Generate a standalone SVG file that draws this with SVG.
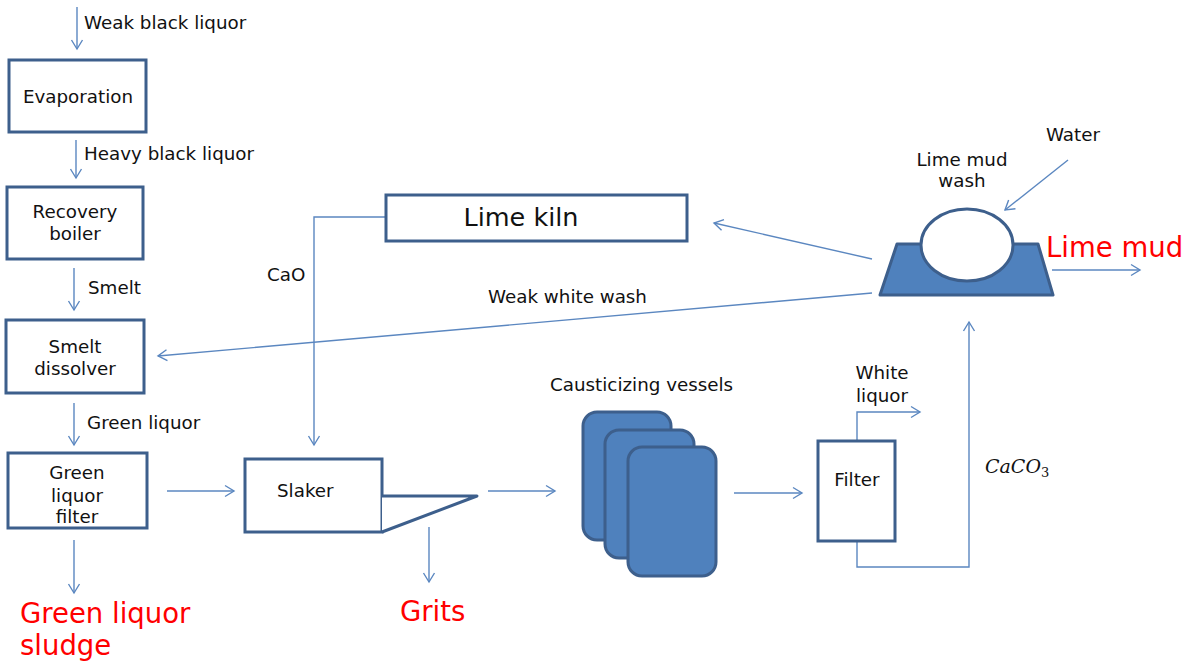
<svg xmlns="http://www.w3.org/2000/svg" width="1191" height="662" viewBox="0 0 1191 662">
  <style>
    .box { fill: #ffffff; stroke: #3d5f8c; stroke-width: 3; }
    .solid { fill: #4f81bd; stroke: #3d5f8c; stroke-width: 3; }
    .flowA { fill: none; stroke: #5b87c0; stroke-width: 1.4; marker-end: url(#arr); }
    text { font-family: "DejaVu Sans", "Open Sans", sans-serif; font-size: 18.3px; fill: #111111; }
    .c { text-anchor: middle; }
    .big { font-size: 25.5px; }
    .red { font-size: 27.5px; fill: #ff0000; }
    .math { font-family: "DejaVu Serif", "Liberation Serif", serif; font-style: italic; font-size: 19px; }
  </style>
  <defs>
    <marker id="arr" markerUnits="userSpaceOnUse" markerWidth="14" markerHeight="14" refX="10" refY="7" orient="auto">
      <path d="M1,1.5 L10,7 L1,12.5" fill="none" stroke="#5b87c0" stroke-width="1.4"/>
    </marker>
  </defs>

  <rect width="1191" height="662" fill="#ffffff"/>

  <!-- connectors -->
  <g id="connectors">
    <line class="flowA" x1="77" y1="7" x2="77" y2="49"/>
    <line class="flowA" x1="76" y1="140" x2="76" y2="178"/>
    <line class="flowA" x1="74" y1="268" x2="74" y2="310"/>
    <line class="flowA" x1="74" y1="403" x2="74" y2="445"/>
    <line class="flowA" x1="74" y1="540" x2="74" y2="593"/>
    <line class="flowA" x1="167" y1="491" x2="234" y2="491"/>
    <line class="flowA" x1="429" y1="527" x2="429" y2="582"/>
    <line class="flowA" x1="488" y1="491" x2="555" y2="491"/>
    <line class="flowA" x1="734" y1="493" x2="802" y2="493"/>
    <polyline class="flowA" points="386,217 314,217 314,445"/>
    <line class="flowA" x1="872" y1="259" x2="714" y2="223"/>
    <line class="flowA" x1="872" y1="293" x2="158" y2="356"/>
    <line class="flowA" x1="1068" y1="160" x2="1005" y2="210"/>
    <line class="flowA" x1="1052" y1="270" x2="1140" y2="270"/>
    <polyline class="flowA" points="857,441 857,412 920,412"/>
    <polyline class="flowA" points="857,541 857,567 969,567 969,322"/>
  </g>

  <!-- left column -->
  <g id="evaporation">
    <rect class="box" x="9" y="60" width="137" height="72"/>
    <text class="c" x="78" y="103">Evaporation</text>
  </g>
  <g id="recovery-boiler">
    <rect class="box" x="7" y="187" width="136" height="72"/>
    <text class="c" x="75" y="218">Recovery</text>
    <text class="c" x="75" y="240">boiler</text>
  </g>
  <g id="smelt-dissolver">
    <rect class="box" x="6" y="320" width="138" height="73"/>
    <text class="c" x="75" y="353">Smelt</text>
    <text class="c" x="75" y="375">dissolver</text>
  </g>
  <g id="green-liquor-filter">
    <rect class="box" x="8" y="453" width="139" height="75"/>
    <text class="c" x="77" y="479">Green</text>
    <text class="c" x="77" y="502">liquor</text>
    <text class="c" x="77" y="523">filter</text>
  </g>

  <!-- slaker with grits trap -->
  <g id="slaker">
    <rect class="box" x="245" y="459" width="137" height="73"/>
    <polyline class="box" points="382,496 477,496 382,532" fill="none" stroke-linejoin="round"/>
    <text x="277" y="497">Slaker</text>
  </g>

  <g id="lime-kiln">
    <rect class="box" x="386" y="195" width="301" height="46"/>
    <text class="c big" x="521" y="226">Lime kiln</text>
  </g>

  <g id="causticizing-vessels">
    <rect class="solid" x="583" y="412" width="88" height="128" rx="14"/>
    <rect class="solid" x="605" y="430" width="89" height="128" rx="14"/>
    <rect class="solid" x="628" y="447" width="88" height="129" rx="14"/>
    <text x="550" y="391">Causticizing vessels</text>
  </g>

  <g id="filter">
    <rect class="box" x="818" y="441" width="77" height="100"/>
    <text class="c" x="857" y="486">Filter</text>
  </g>

  <g id="lime-mud-wash">
    <polygon class="solid" points="897,244 1038,244 1053,295 880,295" stroke-linejoin="round"/>
    <ellipse class="box" cx="967" cy="245" rx="46" ry="36"/>
    <text class="c" x="962" y="166">Lime mud</text>
    <text class="c" x="962" y="187">wash</text>
  </g>

  <!-- stream labels -->
  <g id="labels">
    <text x="84" y="29">Weak black liquor</text>
    <text x="84" y="160">Heavy black liquor</text>
    <text x="88" y="294">Smelt</text>
    <text x="87" y="429">Green liquor</text>
    <text x="267" y="281">CaO</text>
    <text x="488" y="303">Weak white wash</text>
    <text class="c" x="882" y="379">White</text>
    <text class="c" x="882" y="402">liquor</text>
    <text class="c" x="1073" y="141">Water</text>
    <text class="math" x="985" y="473">CaCO<tspan font-style="normal" font-size="13" dy="4">3</tspan></text>
    <text class="red" x="20" y="623">Green liquor</text>
    <text class="red" x="20" y="655">sludge</text>
    <text class="red" x="400" y="621">Grits</text>
    <text class="red" x="1046" y="257">Lime mud</text>
  </g>
</svg>
